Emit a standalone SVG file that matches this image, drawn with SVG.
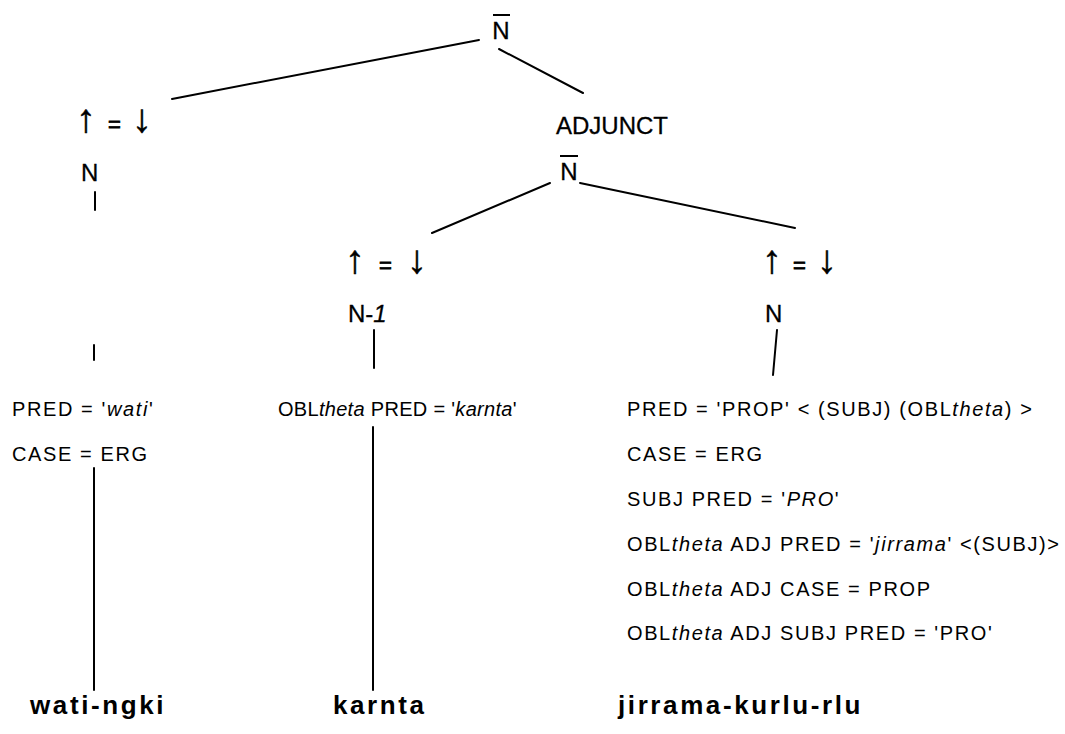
<svg xmlns="http://www.w3.org/2000/svg" width="1065" height="734" viewBox="0 0 1065 734">
<style>
.lbl{font-family:"Liberation Sans","DejaVu Sans",sans-serif;font-size:24px;fill:#000;stroke:#000;stroke-width:0.3}
.arr{font-family:"Liberation Sans","DejaVu Sans",sans-serif;font-size:40px;fill:#000;stroke:#000;stroke-width:0.5}
.eq{font-size:22px;stroke-width:0.8}
.f{font-family:"Liberation Sans",sans-serif;font-size:20px;letter-spacing:1.6px;fill:#000}
.f0{letter-spacing:0.3px}
.w{font-family:"Liberation Sans",sans-serif;font-size:26px;font-weight:bold;letter-spacing:2.6px;fill:#000}
.it{font-style:italic}
.e{stroke:#000;stroke-width:2;fill:none;stroke-linecap:round}
.bar{stroke:#000;stroke-width:2}
</style>
<rect width="1065" height="734" fill="#fff"/>
<g id="edges">
<line class="e" x1="479" y1="40" x2="172" y2="99"/>
<line class="e" x1="499" y1="49" x2="583" y2="93"/>
<line class="e" x1="550" y1="183" x2="432" y2="233"/>
<line class="e" x1="580" y1="183" x2="795" y2="228"/>
<line class="e" x1="95" y1="192" x2="95" y2="210"/>
<line class="e" x1="94" y1="345" x2="94" y2="360"/>
<line class="e" x1="94" y1="468" x2="94" y2="690"/>
<line class="e" x1="374" y1="330" x2="374" y2="368"/>
<line class="e" x1="373" y1="427" x2="373" y2="690"/>
<line class="e" x1="777" y1="330" x2="773" y2="375"/>
</g>
<g id="root">
<line class="bar" x1="493" y1="15" x2="510" y2="15"/>
<text class="lbl" x="501" y="39" text-anchor="middle">N</text>
</g>
<g id="eq1"><text class="arr" y="132"><tspan x="76">↑</tspan><tspan class="eq" x="108">=</tspan><tspan x="132">↓</tspan></text></g>
<g id="adjunct"><text class="lbl" x="556" y="134">ADJUNCT</text></g>
<g id="n1"><text class="lbl" x="81" y="181">N</text></g>
<g id="nbar2">
<line class="bar" x1="560" y1="156" x2="578" y2="156"/>
<text class="lbl" x="569" y="180" text-anchor="middle">N</text>
</g>
<g id="eq2"><text class="arr" y="273"><tspan x="345">↑</tspan><tspan class="eq" x="379">=</tspan><tspan x="407">↓</tspan></text></g>
<g id="eq3"><text class="arr" y="273"><tspan x="762">↑</tspan><tspan class="eq" x="793">=</tspan><tspan x="817">↓</tspan></text></g>
<g id="nminus"><text class="lbl" x="348" y="322">N-<tspan class="it">1</tspan></text></g>
<g id="n2"><text class="lbl" x="765" y="322">N</text></g>
<g id="fs1">
<text class="f" x="12" y="416">PRED = '<tspan class="it">wati</tspan>'</text>
<text class="f" x="12" y="461">CASE = ERG</text>
</g>
<g id="fs2">
<text class="f f0" x="278" y="416">OBL<tspan class="it">theta</tspan> PRED = '<tspan class="it">karnta</tspan>'</text>
</g>
<g id="fs3">
<text class="f" x="627" y="416">PRED = 'PROP' &lt; (SUBJ) (OBL<tspan class="it">theta</tspan>) &gt;</text>
<text class="f" x="627" y="461">CASE = ERG</text>
<text class="f" x="627" y="506">SUBJ PRED = '<tspan class="it">PRO</tspan>'</text>
<text class="f" x="627" y="551">OBL<tspan class="it">theta</tspan> ADJ PRED = '<tspan class="it">jirrama</tspan>' &lt;(SUBJ)&gt;</text>
<text class="f" x="627" y="596">OBL<tspan class="it">theta</tspan> ADJ CASE = PROP</text>
<text class="f" x="627" y="640">OBL<tspan class="it">theta</tspan> ADJ SUBJ PRED = 'PRO'</text>
</g>
<g id="w1"><text class="w" x="30" y="714">wati-ngki</text></g>
<g id="w2"><text class="w" x="333" y="714">karnta</text></g>
<g id="w3"><text class="w" x="618" y="714">jirrama-kurlu-rlu</text></g>
</svg>
